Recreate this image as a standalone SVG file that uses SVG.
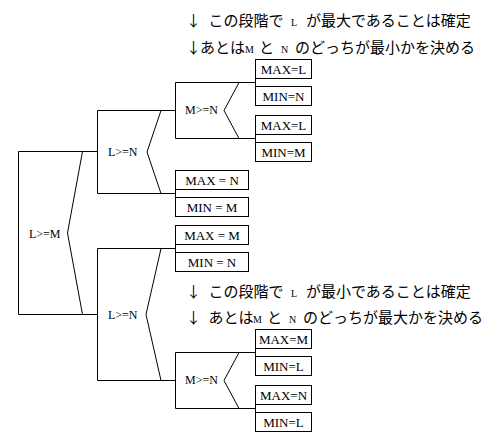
<svg xmlns="http://www.w3.org/2000/svg" width="500" height="442" viewBox="0 0 500 442">
<style>
.ln{fill:none;stroke:#000;stroke-width:1}
.bx{fill:#fff;stroke:#000;stroke-width:1}
.lb{font-family:"Liberation Serif",serif;font-size:12px;fill:#000}
.lf{font-family:"Liberation Serif",serif;font-size:13px;fill:#000;text-anchor:middle}
.jp{font-family:"Noto Sans CJK JP",sans-serif;font-size:15px;fill:#000}
.lt{font-family:"Liberation Serif",serif;font-size:10px}
</style>
<rect width="500" height="442" fill="#fff"/>
<g id="connectors" class="ln">
<path d="M82.5,151.5H97.5M82.5,314.5H97.5"/>
<path d="M161,110.5H175.5M161,193.5H175.5M175.5,189.5V197.5"/>
<path d="M161,248.5H175.5M161,380.5H175.5M175.5,244.5V252.5"/>
<path d="M239,82.5H255.5M239,138.5H255.5M255.5,78.5V86.5M255.5,134.5V142.5"/>
<path d="M239,352.5H255.5M239,408.5H255.5M255.5,348.5V356.5M255.5,404.5V412.5"/>
</g>
<g id="root">
<path class="ln" d="M82.5,151.5H18.5V314.5H82.5"/>
<path class="ln" d="M82.5,151.5L67.5,233L82.5,314.5"/>
<text class="lb" x="29" y="238">L&gt;=M</text>
</g>
<g id="LgeN1">
<path class="ln" d="M161,110.5H97.5V193.5H161"/>
<path class="ln" d="M161,110.5L147,152L161,193.5"/>
<text class="lb" x="108" y="156">L&gt;=N</text>
</g>
<g id="MgeN1">
<path class="ln" d="M239,82.5H175.5V138.5H239"/>
<path class="ln" d="M239,82.5L224,110.5L239,138.5"/>
<text class="lb" x="185" y="114">M&gt;=N</text>
</g>
<g id="leaf1"><rect class="bx" x="255.5" y="59.5" width="56" height="19"/><text class="lf" x="283.5" y="73.5">MAX=L</text></g>
<g id="leaf2"><rect class="bx" x="255.5" y="86.5" width="56" height="19"/><text class="lf" x="283.5" y="100.5">MIN=N</text></g>
<g id="leaf3"><rect class="bx" x="255.5" y="115.5" width="56" height="19"/><text class="lf" x="283.5" y="129.5">MAX=L</text></g>
<g id="leaf4"><rect class="bx" x="255.5" y="142.5" width="56" height="19"/><text class="lf" x="283.5" y="156.5">MIN=M</text></g>
<g id="leaf5"><rect class="bx" x="175.5" y="170.5" width="73" height="19"/><text class="lf" x="212" y="184.5">MAX = N</text></g>
<g id="leaf6"><rect class="bx" x="175.5" y="197.5" width="73" height="19"/><text class="lf" x="212" y="211.5">MIN = M</text></g>
<g id="leaf7"><rect class="bx" x="175.5" y="225.5" width="73" height="19"/><text class="lf" x="212" y="239.5">MAX = M</text></g>
<g id="leaf8"><rect class="bx" x="175.5" y="252.5" width="73" height="19"/><text class="lf" x="212" y="266.5">MIN = N</text></g>
<g id="LgeN2">
<path class="ln" d="M161,248.5H97.5V380.5H161"/>
<path class="ln" d="M161,248.5L146,314.5L161,380.5"/>
<text class="lb" x="108" y="319">L&gt;=N</text>
</g>
<g id="MgeN2">
<path class="ln" d="M239,352.5H175.5V408.5H239"/>
<path class="ln" d="M239,352.5L224,380.5L239,408.5"/>
<text class="lb" x="185" y="384">M&gt;=N</text>
</g>
<g id="leaf9"><rect class="bx" x="255.5" y="329.5" width="56" height="19"/><text class="lf" x="283.5" y="343.5">MAX=M</text></g>
<g id="leaf10"><rect class="bx" x="255.5" y="356.5" width="56" height="19"/><text class="lf" x="283.5" y="370.5">MIN=L</text></g>
<g id="leaf11"><rect class="bx" x="255.5" y="385.5" width="56" height="19"/><text class="lf" x="283.5" y="399.5">MAX=N</text></g>
<g id="leaf12"><rect class="bx" x="255.5" y="412.5" width="56" height="19"/><text class="lf" x="283.5" y="426.5">MIN=L</text></g>
<g id="note1">
<text class="jp" y="26"><tspan x="186">↓</tspan><tspan x="208.5">この段階で</tspan><tspan class="lt" x="291">L</tspan><tspan x="306">が最大であることは確定</tspan></text>
<text class="jp" y="52.5"><tspan x="186">↓</tspan><tspan x="200">あとは</tspan><tspan class="lt" x="245">M</tspan><tspan x="259">と</tspan><tspan class="lt" x="281">N</tspan><tspan x="295">のどっちが最小かを決める</tspan></text>
</g>
<g id="note2">
<text class="jp" y="297"><tspan x="186">↓</tspan><tspan x="208.5">この段階で</tspan><tspan class="lt" x="291">L</tspan><tspan x="306">が最小であることは確定</tspan></text>
<text class="jp" y="323"><tspan x="186">↓</tspan><tspan x="208.5">あとは</tspan><tspan class="lt" x="253">M</tspan><tspan x="267">と</tspan><tspan class="lt" x="289">N</tspan><tspan x="303">のどっちが最大かを決める</tspan></text>
</g>
</svg>
